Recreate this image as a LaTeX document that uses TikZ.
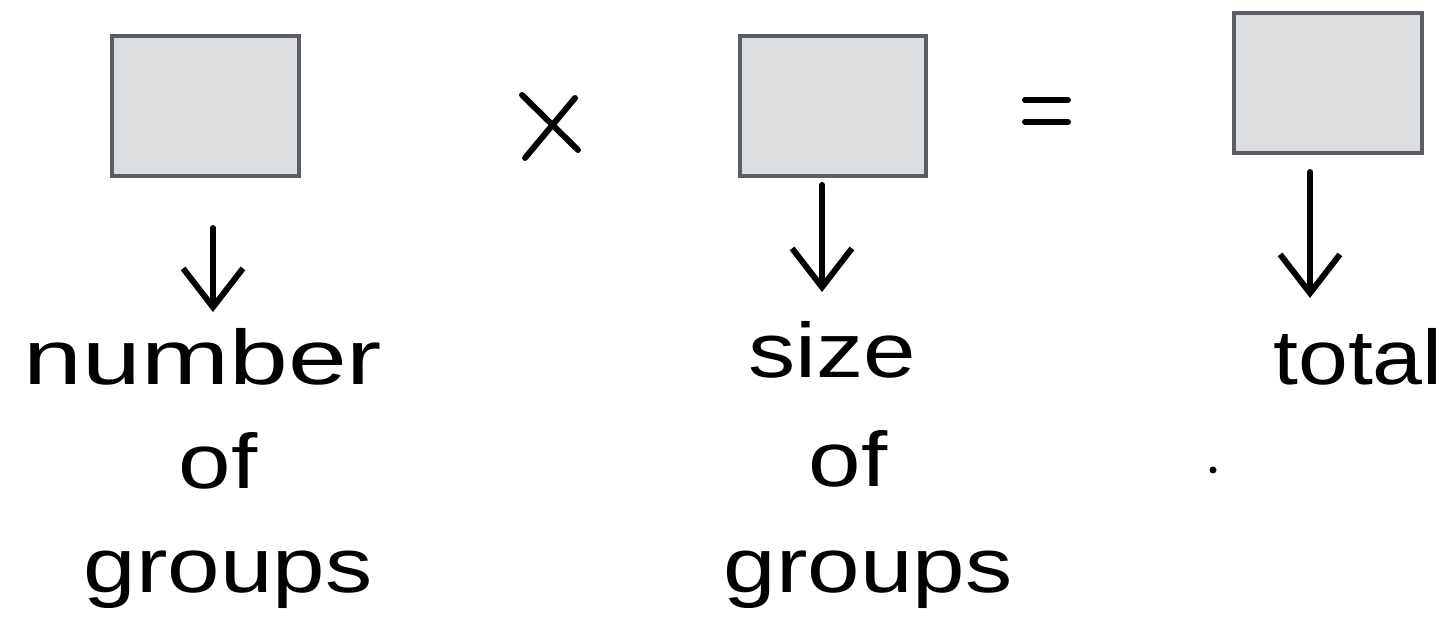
\documentclass[tikz,border=0pt]{standalone}
\usepackage{fontspec}
\setmainfont{Liberation Sans}
\usetikzlibrary{arrows.meta}
\begin{document}
\begin{tikzpicture}[x=0.01cm,y=-0.01cm,
  hand/.style={font=\fontsize{22}{24}\selectfont,inner sep=0pt,xscale=1.22,transform shape,anchor=base},
  down/.style={-{Straight Barb[length=11pt,width=17pt,line width=1.7pt]},line width=1.7pt,line cap=round},
  op/.style={line width=1.7pt,line cap=round}]
\definecolor{boxfill}{HTML}{DCDDDF}
\definecolor{boxline}{HTML}{5A5D63}
\useasboundingbox (0,0) rectangle (1455,634);
% boxes
\draw[draw=boxline,fill=boxfill,line width=0.9pt] (112,36) rectangle (299,176) node[midway] (b1) {};
\draw[draw=boxline,fill=boxfill,line width=0.9pt] (740,36) rectangle (926,176) node[midway] (b2) {};
\draw[draw=boxline,fill=boxfill,line width=0.9pt] (1234,13) rectangle (1422,153) node[midway] (b3) {};
% operators
\coordinate (x1) at (522,95); \coordinate (x2) at (578,150);
\coordinate (x3) at (575,98); \coordinate (x4) at (525,158);
\draw[op] (x1) -- (x2); \draw[op] (x3) -- (x4);
\coordinate (e1) at (1025,100); \coordinate (e2) at (1068,100);
\coordinate (e3) at (1025,122); \coordinate (e4) at (1068,122);
\draw[op] (e1) -- (e2); \draw[op] (e3) -- (e4);
% arrows
\coordinate (a1s) at (213,228); \coordinate (a1e) at (213,312);
\coordinate (a2s) at (822,185); \coordinate (a2e) at (822,292);
\coordinate (a3s) at (1310,172); \coordinate (a3e) at (1310,298);
\draw[down] (a1s) -- (a1e);
\draw[down] (a2s) -- (a2e);
\draw[down] (a3s) -- (a3e);
% labels
\node[hand,xscale=1.12] (t1) at (203,385) {number};
\node[hand] (t2) at (218,488) {of};
\node[hand] (t3) at (228,592) {groups};
\node[hand] (t4) at (832,378) {size};
\node[hand] (t5) at (848,486) {of};
\node[hand] (t6) at (868,592) {groups};
\node[hand,xscale=0.95] (t7) at (1358,385) {total};
\fill (1213,470) circle (3.5);
\end{tikzpicture}
\end{document}
